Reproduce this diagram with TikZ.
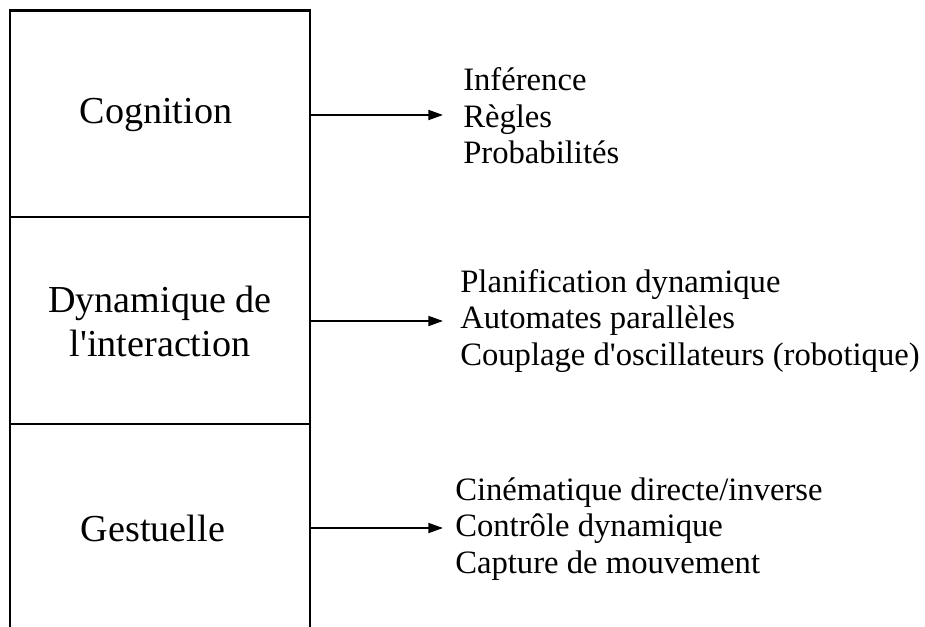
\documentclass[tikz,border=0pt]{standalone}
\usepackage{fontspec}
\setmainfont{Liberation Serif}
\usetikzlibrary{arrows.meta}
\begin{document}
\begin{tikzpicture}[x=0.75pt,y=-0.75pt,
  layer/.style={rectangle, minimum width=225pt, minimum height=150pt, inner sep=0pt, align=center, font=\fontsize{28.6}{33}\selectfont},
  items/.style={anchor=west, inner sep=0pt, align=left, font=\fontsize{24.5}{27.4}\selectfont},
  arr/.style={-{Triangle[length=11pt,width=7.5pt]}, line width=1.4pt},
  frame/.style={line width=1.6pt}]
\useasboundingbox (0,0) rectangle (925,626);
% frame
\draw[frame] (10,630) -- (10,10.5) -- (310,10.5) -- (310,630);
\draw[frame] (10,217) -- (310,217);
\draw[frame] (10,424) -- (310,424);
% layers
\node[layer] (cog) at (156,115) {Cognition};
\node[layer] (dyn) at (160,321) {Dynamique de\\l\textquotesingle interaction};
\node[layer] (ges) at (153,528) {Gestuelle};
% item lists
\node[items] (r1) at (463,116) {Inférence\\Règles\\Probabilités};
\node[items] (r2) at (460,321) {Planification dynamique\\Automates parallèles\\Couplage d\textquotesingle oscillateurs (robotique)};
\node[items] (r3) at (455,529) {Cinématique directe/inverse\\Contrôle dynamique\\Capture de mouvement};
% arrows
\draw[arr, shorten >=15pt] (cog.east -| 310,0) -- (cog.east -| r1.west);
\draw[arr, shorten >=12.75pt] (dyn.east) -- (dyn.east -| r2.west);
\draw[arr, shorten >=9pt] (ges.east -| 310,0) -- (ges.east -| r3.west);
\end{tikzpicture}
\end{document}
